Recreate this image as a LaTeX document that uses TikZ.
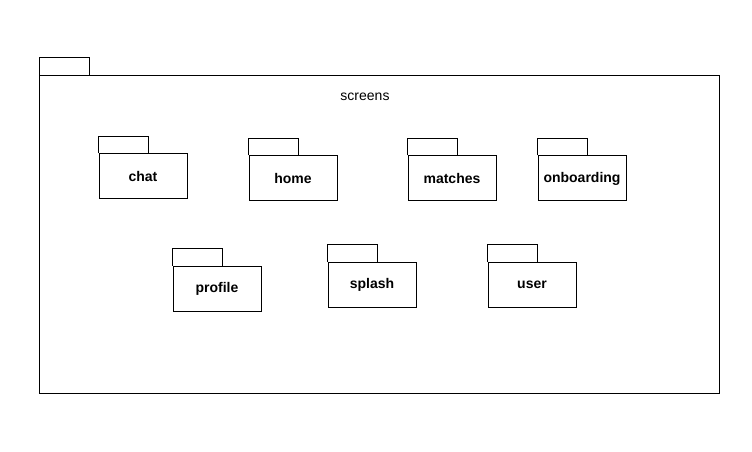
\documentclass[tikz,border=0pt]{standalone}
\usepackage{fontspec}
\setmainfont{Liberation Sans}
\usetikzlibrary{calc}

\begin{document}
\begin{tikzpicture}[x=0.75pt,y=-0.75pt,line width=0.75pt,
  pkgbox/.style={draw,inner sep=0pt,minimum width=66pt,minimum height=33.75pt,
    font=\bfseries\fontsize{10.5}{12}\selectfont}]
  \useasboundingbox (0,0) rectangle (752,452);
  % paquete exterior
  \node[draw,inner sep=0pt,anchor=north west,minimum width=510pt,minimum height=238.5pt] (screens) at (39,75) {};
  \draw (screens.north west) -- ++(0,-17) -- ++(50,0) -- ++(0,17);
  \node[font=\fontsize{10.5}{12}\selectfont] (screenslbl) at (365,97) {screens};
  % subpaquetes
  \foreach \nm/\px/\py in {chat/143/176.5,home/293/178.5,matches/452/178.5,onboarding/582/178.5,
                           profile/217/288.5,splash/372/284.5,user/532/284.5}{
    \node[pkgbox] (\nm) at (\px,\py) {\nm};
    \draw (\nm.north west) -- ++(0,-17) -- ++(50,0) -- ++(0,17);
  }
\end{tikzpicture}
\end{document}
